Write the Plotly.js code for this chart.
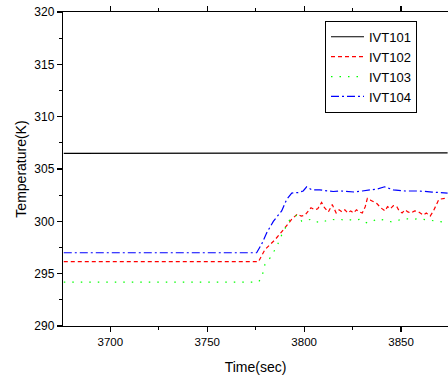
<!DOCTYPE html>
<html>
<head>
<meta charset="utf-8">
<script src="https://cdn.plot.ly/plotly-3.0.1.min.js"></script>
<style>html,body{margin:0;padding:0;background:#fff;}#chart{width:448px;height:379px;}</style>
</head>
<body>
<div id="chart"></div>
<script>
// IVT101
const t101 = [3676, 3720, 3760, 3800, 3840, 3874];
const v101 = [306.5, 306.5, 306.5, 306.55, 306.55, 306.55];
// IVT102
const t102 = [3676, 3776.4, 3779.8, 3785.0, 3789.3, 3793.6, 3796.5, 3798.5, 3800.5, 3803.5, 3805.5, 3807, 3809, 3810.5, 3812.5, 3814.5, 3816.5, 3818, 3819.5, 3821, 3822.5, 3824, 3825.5, 3827, 3828.5, 3830, 3831.5, 3832.6, 3834.5, 3837.5, 3839.5, 3841.7, 3843, 3844.5, 3846, 3847.8, 3849, 3850.5, 3852, 3853.5, 3855, 3857, 3859, 3861.5, 3863, 3865, 3866.7, 3868, 3869.5, 3872.7, 3874];
const v102 = [296.15, 296.15, 297.3, 298.25, 299.2, 300.2, 300.7, 300.5, 300.6, 301.3, 301.1, 301.2, 301.8, 301.3, 300.9, 301.6, 300.8, 301.1, 300.9, 301.1, 300.8, 301.0, 300.8, 301.1, 300.9, 300.8, 301.4, 302.2, 302.0, 301.7, 301.3, 301.0, 301.4, 301.2, 301.5, 301.4, 301.0, 300.8, 301.1, 300.9, 300.8, 301.0, 300.9, 300.6, 300.8, 300.5, 301.0, 301.6, 302.1, 302.2, 302.3];
// IVT103
const t103 = [3676, 3776.4, 3778.1, 3779.8, 3782.4, 3785.9, 3788.4, 3792.7, 3796.5, 3798.8, 3801, 3803.9, 3806, 3808.2, 3810.5, 3813.3, 3816, 3818.5, 3821, 3823.6, 3826, 3828.8, 3830.5, 3832.5, 3835, 3838.2, 3841.5, 3845.2, 3848.5, 3852.1, 3856, 3859.8, 3863, 3865.8, 3869, 3872.7, 3874];
const v103 = [294.2, 294.2, 294.6, 295.9, 296.5, 297.6, 298.7, 300.2, 300.6, 300.0, 300.1, 300.2, 300.0, 299.85, 300.0, 300.2, 300.15, 300.2, 300.1, 300.15, 300.1, 300.2, 300.0, 299.85, 300.0, 300.25, 300.1, 299.95, 300.1, 300.25, 300.2, 300.25, 300.15, 300.1, 300.0, 299.9, 299.9];
// IVT104
const t104 = [3676, 3775.5, 3778, 3780.7, 3784.1, 3788.4, 3791, 3793.6, 3797, 3799.5, 3801.3, 3804, 3808, 3812, 3815, 3819, 3822, 3826, 3830, 3833, 3836, 3838, 3841.5, 3846, 3852, 3859, 3866, 3874];
const v104 = [297.0, 297.0, 297.8, 298.9, 300.0, 301.0, 302.1, 302.7, 302.75, 302.9, 303.3, 303.0, 303.0, 302.9, 302.85, 302.9, 302.85, 302.8, 302.9, 303.0, 303.1, 303.1, 303.3, 303.0, 302.9, 302.9, 302.8, 302.7];

const xTicks = [3700, 3750, 3800, 3850];
const xMinor = [3725, 3775, 3825];
const yTicks = [290, 295, 300, 305, 310, 315, 320];
const xRange = [3675.6, 3874.2];

const font = "Arial, 'Liberation Sans', sans-serif";

const traces = [
  {x: t101, y: v101, name: 'IVT101', mode: 'lines', line: {color: '#000000', width: 1.2}},
  {x: t102, y: v102, name: 'IVT102', mode: 'lines', line: {color: '#ff0000', width: 1.2, dash: '4px,3px'}},
  {x: t103, y: v103, name: 'IVT103', mode: 'lines', line: {color: '#00ff00', width: 1.2, dash: '1.5px,7px'}},
  {x: t104, y: v104, name: 'IVT104', mode: 'lines', line: {color: '#0000ff', width: 1.2, dash: '8px,3px,2px,3px'}}
];

const layout = {
  width: 448, height: 379,
  margin: {l: 63, r: 0, t: 12, b: 53, pad: 0},
  paper_bgcolor: '#ffffff', plot_bgcolor: '#ffffff',
  font: {family: font, color: '#000', size: 12},
  showlegend: true,
  legend: {
    x: 0.6805, y: 0.972, xanchor: 'left', yanchor: 'top',
    bgcolor: '#ffffff', bordercolor: '#000', borderwidth: 1,
    font: {family: font, size: 13, color: '#000'},
    itemwidth: 33
  },
  xaxis: {
    range: xRange,
    tickvals: xTicks, ticktext: xTicks.map(String),
    ticks: 'outside', ticklen: 5, tickwidth: 1.2, tickcolor: '#000',
    showline: true, linecolor: '#000', linewidth: 1.2,
    mirror: 'allticks', showgrid: false, zeroline: false,
    tickfont: {family: font, size: 11.5},
    minor: {tickvals: xMinor, ticks: 'outside', ticklen: 3, tickwidth: 1.2, tickcolor: '#000', showgrid: false},
    title: {text: 'Time(sec)', font: {family: font, size: 14}, standoff: 15}
  },
  yaxis: {
    range: [290, 320],
    tickvals: yTicks, ticktext: yTicks.map(String),
    ticks: 'outside', ticklen: 5, tickwidth: 1.2, tickcolor: '#000',
    showline: true, linecolor: '#000', linewidth: 1.2,
    mirror: false, showgrid: false, zeroline: false,
    tickfont: {family: font, size: 12},
    minor: {dtick: 2.5, ticks: 'outside', ticklen: 3, tickwidth: 1.2, tickcolor: '#000', showgrid: false},
    title: {text: 'Temperature(K)', font: {family: font, size: 14}, standoff: 4}
  }
};

Plotly.newPlot('chart', traces, layout, {staticPlot: true, displayModeBar: false});
</script>
</body>
</html>
